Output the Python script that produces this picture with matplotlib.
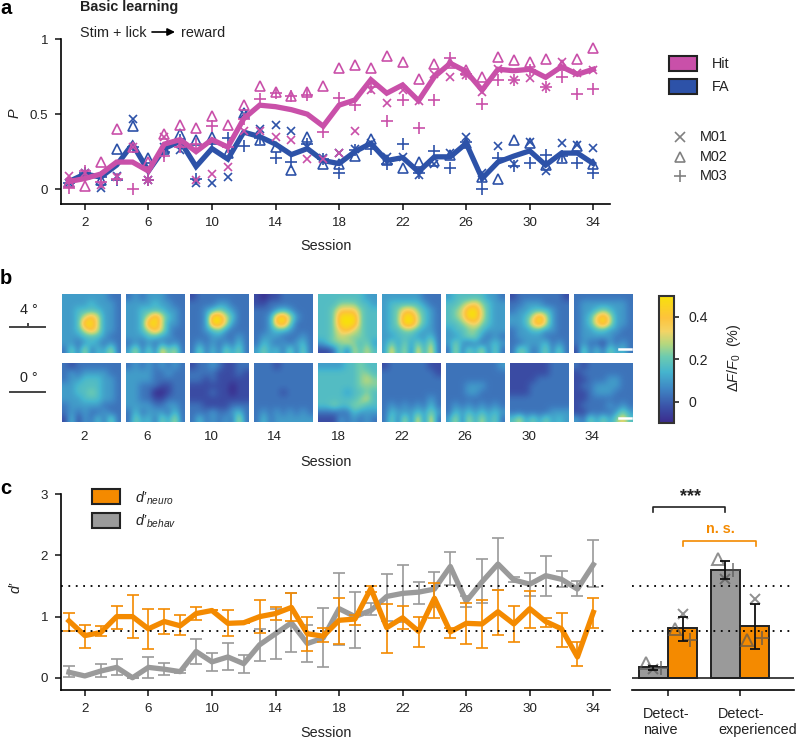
import matplotlib
matplotlib.use("Agg")
import matplotlib.pyplot as plt
import numpy as np
from matplotlib.colors import LinearSegmentedColormap
from matplotlib.patches import Rectangle

plt.rcParams['font.family'] = ['Liberation Sans', 'DejaVu Sans']
plt.rcParams['mathtext.fontset'] = 'custom'
plt.rcParams['mathtext.it'] = 'Liberation Sans:italic'
plt.rcParams['mathtext.rm'] = 'Liberation Sans'
plt.rcParams['text.color'] = '#222222'
plt.rcParams['axes.linewidth'] = 1.2

W, H = 798, 739
PINK = '#C950A9'
BLUE = '#2D52A8'
ORANGE = '#F48A00'
GREY = '#9A9A9A'
DARK = '#222222'

sessions = list(range(1, 35))
session_ticks = [2, 6, 10, 14, 18, 22, 26, 30, 34]

# panel a
hit_mean = [.05, .07, .10, .18, .18, .12, .30, .33, .25, .33, .28, .47, .56, .55, .53, .50, .42,
            .56, .595, .73, .64, .695, .59, .75, .84, .785, .66, .80, .79, .80, .746, .817, .766, .80]
fa_mean = [.05, .10, .08, .16, .30, .12, .27, .32, .15, .27, .20, .38, .35, .30, .23, .27, .19,
           .17, .25, .305, .19, .21, .115, .215, .215, .305, .07, .18, .22, .255, .16, .24, .24, .17]
hit_m01 = [.09, .11, .03, .08, .28, .06, .35, .30, .06, .10, .15, .39, .39, .35, .33, .20, .20,
           .243, .39, .66, .577, .66, .59, .77, .746, .76, .65, .80, .73, .74, .68, .85, .777, .795]
hit_m02 = [.05, .02, .18, .40, .28, .18, .37, .43, .41, .49, .43, .56, .69, .65, .62, .65, .69,
           .806, .83, .806, .89, .85, .735, .835, .84, .795, .75, .88, .86, .85, .87, .83, .87, .945]
hit_m03 = [.01, .12, .05, .07, .00, .06, .22, .28, .30, .42, .28, .47, .60, .64, .62, .63, .38,
           .61, .56, .68, .456, .595, .41, .595, .873, .77, .57, .73, .73, .795, .68, .746, .635, .666]
fa_m01 = [.04, .11, .01, .09, .47, .06, .28, .26, .04, .04, .08, .50, .40, .43, .39, .28, .21,
          .24, .27, .305, .216, .216, .095, .167, .24, .35, .11, .287, .17, .316, .122, .305, .294, .276]
fa_m02 = [.05, .10, .06, .27, .42, .21, .27, .37, .33, .35, .24, .51, .33, .28, .13, .35, .17,
          .17, .22, .334, .194, .138, .18, .19, .227, .305, .08, .065, .327, .305, .16, .21, .29, .17]
fa_m03 = [.04, .11, .08, .06, .28, .06, .25, .33, .07, .30, .34, .29, .34, .21, .18, .30, .20,
          .11, .26, .27, .167, .30, .105, .256, .138, .316, .00, .205, .156, .176, .227, .22, .176, .11]

# panel b, levels 0-9 read per block, 0 = -0.1 and 9 = 0.5
heat_4deg = [
    ["333333322", "333343332", "334444332", "334686332", "334996332", "334686332", "333444322", "332343232", "252624362"],
    ["232333222", "333343322", "334444332", "334696432", "334996332", "334686322", "333443322", "232323232", "362527462"],
    ["122222222", "222233222", "223454322", "223996422", "223996322", "223453222", "222332232", "232323242", "252425352"],
    ["101122222", "112222222", "222343222", "223896322", "223895222", "223443222", "233322232", "243232342", "353425252"],
    ["444444433", "444555443", "445777544", "445999544", "445999544", "445786544", "445655544", "345565453", "112526464"],
    ["333333222", "344444322", "345775432", "345996432", "345996432", "344554332", "334443342", "353535362", "373627372"],
    ["344444332", "445675433", "456996433", "456996433", "445675433", "344554333", "334553232", "353232343", "262536252"],
    ["122222221", "223332222", "233444322", "334696322", "334796322", "233443322", "233332222", "223334232", "254235252"],
    ["222222222", "233333332", "233454332", "234796332", "234796332", "233443322", "233333222", "232213232", "152425342"],
]
heat_0deg = [
    ["212222222", "232333322", "233444332", "334444332", "334454332", "333444332", "233333222", "232322322", "141324252"],
    ["232323232", "333322322", "333322222", "332221122", "332200122", "332211222", "333322332", "242333242", "253425362"],
    ["122321122", "222211121", "221211111", "111111011", "111211011", "111111111", "221111222", "222322342", "242323262"],
    ["222122222", "222222222", "222222222", "222222222", "222212222", "222222222", "222222222", "232323232", "242333333"],
    ["333344544", "444444554", "444444565", "444444555", "444434454", "444444564", "445445544", "222224333", "111323232"],
    ["122222211", "222222221", "222222222", "222222222", "222222222", "222222232", "232323242", "243334353", "252627272"],
    ["222222223", "222222222", "222222222", "222333222", "222332222", "222222222", "232323232", "243434343", "362636352"],
    ["111111222", "111111222", "111122222", "111222222", "111222222", "222222222", "222222222", "222222333", "463535343"],
    ["212222222", "122222222", "112223322", "122333322", "112333222", "112222222", "122223232", "112222353", "325353574"],
]
cbar_ticks = [0, 0.2, 0.4]
cbar_labels = ['0', '0.2', '0.4']

# panel c
neuro = [.93, .69, .74, 1.0, 1.0, .80, .92, .85, 1.05, 1.10, .89, .90, 1.0, 1.05, 1.15, .72, .68,
         .94, .96, 1.46, .82, .98, .76, 1.30, .75, .89, .88, 1.08, .88, 1.13, .92, .80, .34, 1.07]
neuro_hi = [1.06, .87, .85, 1.18, 1.35, 1.12, 1.13, 1.02, 1.15, 1.10, 1.10, .90, 1.27, 1.15, 1.38, 1.0, .81,
            1.31, 1.03, 1.50, 1.20, 1.18, 1.0, 1.55, .82, 1.23, 1.27, 1.43, 1.17, 1.42, .97, 1.06, .59, 1.30]
neuro_lo = [.77, .49, .68, .80, .65, .47, .71, .70, .95, 1.10, .68, .90, .74, .95, .93, .44, .59,
            .55, .86, 1.40, .41, .79, .50, .98, .65, .55, .49, .70, .58, .82, .83, .51, .20, .81]
behav = [.09, .03, .11, .17, .0, .17, .14, .10, .43, .26, .34, .23, .54, .72, .90, .56, .65,
         1.13, 1.0, 1.10, 1.33, 1.38, 1.40, 1.45, 1.82, 1.25, 1.57, 1.86, 1.60, 1.53, 1.67, 1.61, 1.45, 1.85]
behav_hi = [.19, .03, .23, .30, .0, .34, .24, .12, .63, .40, .57, .37, .80, 1.13, 1.39, .87, 1.14,
            1.71, 1.41, 1.22, 1.70, 1.85, 1.57, 1.73, 2.06, 1.33, 1.94, 2.29, 1.64, 1.72, 1.99, 1.75, 1.59, 2.25]
behav_lo = [.02, .03, .01, .05, .0, .0, .04, .08, .22, .11, .12, .08, .28, .31, .42, .26, .17,
            .53, .49, 1.03, .93, .92, 1.20, 1.16, 1.52, 1.16, 1.22, 1.43, 1.56, 1.34, 1.34, 1.48, 1.33, 1.49]
dprime_refs = [0.77, 1.5]

# bars: behav naive, neuro naive, behav experienced, neuro experienced
bar_vals = [.18, .81, 1.77, .85]
bar_hi = [.20, 1.0, 1.91, 1.21]
bar_lo = [.13, .60, 1.61, .47]
bar_m01 = [.14, 1.05, 1.62, 1.28]
bar_m02 = [.24, .79, 1.94, .61]
bar_m03 = [.16, .61, 1.76, .65]
groups = ['Detect-\nnaive', 'Detect-\nexperienced']


def axes_px(left, top, right, bottom, **kw):
    return fig.add_axes([left / W, 1 - bottom / H, (right - left) / W, (bottom - top) / H], **kw)


def session_axis(ax):
    ax.set_xlim(0.5, 35.05)
    ax.set_xticks(session_ticks)
    ax.spines['top'].set_visible(False)
    ax.spines['right'].set_visible(False)
    ax.tick_params(length=4.3, width=1.2, labelsize=9.6, colors=DARK, pad=5)


fig = plt.figure(figsize=(W / 100, H / 100), dpi=100)
ov = fig.add_axes([0, 0, 1, 1], zorder=10)
ov.set_xlim(0, W)
ov.set_ylim(H, 0)
ov.axis('off')

# --- a
ax = axes_px(61, 39.3, 610, 204)
session_axis(ax)
ax.set_ylim(-0.1, 1)
ax.set_yticks([0, 0.5, 1])
ax.set_yticklabels(['0', '0.5', '1'])
mk = dict(ls='none', mfc='none', mew=1.2)
for vals, m, ms in [(fa_m01, 'x', 6.3), (fa_m02, '^', 7.2), (fa_m03, '+', 8)]:
    ax.plot(sessions, vals, marker=m, ms=ms, mec=BLUE, zorder=2, clip_on=False, **mk)
ax.plot(sessions, fa_mean, color=BLUE, lw=3.8, solid_joinstyle='miter', zorder=3)
for vals, m, ms in [(hit_m01, 'x', 6.3), (hit_m02, '^', 7.2), (hit_m03, '+', 8)]:
    ax.plot(sessions, vals, marker=m, ms=ms, mec=PINK, zorder=4, clip_on=False, **mk)
ax.plot(sessions, hit_mean, color=PINK, lw=3.8, solid_joinstyle='miter', zorder=5)

# --- b
cmap = LinearSegmentedColormap.from_list('parula_like', [
    (0.0, '#3B2A8C'), (0.12, '#3A4FA6'), (0.27, '#3F86C4'), (0.40, '#45B4CE'), (0.52, '#6CCBB0'),
    (0.62, '#B5D77E'), (0.72, '#F3D466'), (0.83, '#FDC33C'), (1.0, '#F8E10A')])
im = None
for col in range(9):
    x0 = 62 + 64 * col
    for top, grids in [(294.3, heat_4deg), (363.3, heat_0deg)]:
        hax = axes_px(x0, top, x0 + 58.7, top + 58.4)
        levels = np.array([[int(c) for c in row] for row in grids[col]], dtype=float)
        im = hax.imshow(-0.1 + levels / 9 * 0.6, cmap=cmap, vmin=-0.1, vmax=0.5,
                        interpolation='bicubic', aspect='auto')
        hax.axis('off')
        if col == 8:
            hax.plot([0.76, 0.97], [0.07, 0.07], color='white', lw=1.8, transform=hax.transAxes)

cax = axes_px(659.3, 295.7, 674, 423)
cb = fig.colorbar(im, cax=cax)
cb.set_ticks(cbar_ticks)
cb.set_ticklabels(cbar_labels)
cb.ax.tick_params(length=3.5, width=1.2, labelsize=10.2, colors=DARK, pad=7)
cb.outline.set_edgecolor('#333333')
cb.outline.set_linewidth(1.5)

# --- c
ax = axes_px(61, 494.3, 610, 690)
session_axis(ax)
ax.set_ylim(-0.2, 3)
ax.set_yticks([0, 1, 2, 3])
for ref in dprime_refs:
    ax.plot([0.5, 34.8], [ref, ref], color='black', lw=1.3, ls=(0, (1, 3.1)), zorder=6)
s = np.array(sessions)
ax.errorbar(s, behav, yerr=[np.array(behav) - behav_lo, np.array(behav_hi) - behav], color=GREY,
            lw=3.8, elinewidth=1.2, capsize=4.5, capthick=1.2, zorder=2)
ax.errorbar(s, neuro, yerr=[np.array(neuro) - neuro_lo, np.array(neuro_hi) - neuro], color=ORANGE,
            lw=3.8, elinewidth=1.2, capsize=4.5, capthick=1.2, zorder=3)

# --- bars
bx = axes_px(631.7, 494.3, 794, 690)
bx.set_xlim(-0.25, 5.34)
bx.set_ylim(-0.2, 3)
group_x = [1, 3.48]
bar_x = [group_x[0] - .5, group_x[0] + .5, group_x[1] - .5, group_x[1] + .5]
bar_cols = [GREY, ORANGE, GREY, ORANGE]
bx.bar(bar_x, bar_vals, width=1, color=bar_cols, edgecolor=DARK, lw=1.4, zorder=2)
bx.axhline(0, color=DARK, lw=1.2, zorder=3)
for ref in dprime_refs:
    bx.axhline(ref, color='black', lw=1.3, ls=(0, (1, 3.1)), zorder=4)
for vals, m, ms, off in [(bar_m01, 'x', 7, 0), (bar_m02, '^', 8, -.25), (bar_m03, '+', 9.5, .27)]:
    bx.plot(np.array(bar_x) + off, vals, ls='none', marker=m, ms=ms, mfc='none', mew=1.4,
            mec='#555555', alpha=.65, zorder=5, clip_on=False)
v = np.array(bar_vals)
bx.errorbar(bar_x, v, yerr=[v - bar_lo, np.array(bar_hi) - v], ls='none', color='#111111',
            elinewidth=1.3, capsize=3.5, capthick=1.3, zorder=6)
for name in ['top', 'right', 'left']:
    bx.spines[name].set_visible(False)
bx.patch.set_alpha(0)
bx.set_yticks([])
bx.set_xticks(group_x)
bx.set_xticklabels([])
bx.tick_params(length=4.3, width=1.2, colors=DARK)

# --- overlay text and legends
tx = dict(fontsize=10.4, va='center', color=DARK)
ov.text(0, 8, 'a', fontsize=14.5, fontweight='bold', color='black', va='center')
ov.text(0, 278, 'b', fontsize=14.5, fontweight='bold', color='black', va='center')
ov.text(0, 488, 'c', fontsize=14.5, fontweight='bold', color='black', va='center')
ov.text(80, 7, 'Basic learning', fontweight='bold', **tx)
ov.text(80, 33, 'Stim + lick', **tx)
ov.text(181, 33, 'reward', **tx)
ov.annotate('', xy=(175, 32), xytext=(152, 32),
            arrowprops=dict(arrowstyle='-|>', color='black', lw=1.2, mutation_scale=11, shrinkA=0, shrinkB=0))

for y, lab in [(246, 'Session'), (461.7, 'Session'), (732.7, 'Session')]:
    ov.text(326, y, lab, ha='center', **tx)
for tick in session_ticks:
    ov.text(85 + (tick - 2) * 15.88 - 1, 436.7, str(tick), ha='center', va='center', fontsize=9.6, color=DARK)

ov.text(15, 113, 'P', rotation=90, ha='center', style='italic', **tx)
ov.text(16, 587, 'd’', rotation=90, ha='center', style='italic', **tx)
ov.text(734, 358, r'$\Delta F/F_{0}$  (%)', rotation=90, ha='center', **tx)

for top, col, lab in [(56, PINK, 'Hit'), (79.3, BLUE, 'FA')]:
    ov.add_patch(Rectangle((669, top), 27.7, 14.7, fc=col, ec=DARK, lw=1.5))
    ov.text(711.7, top + 7.5, lab, **tx)
for y, m, ms, lab in [(137, 'x', 6.5, 'M01'), (157, '^', 7.5, 'M02'), (176, '+', 9, 'M03')]:
    ov.plot([680], [y], marker=m, ms=ms, mfc='none', mew=1.2, mec='#808080', ls='none')
    ov.text(700, y, lab, **tx)

for top, col, lab in [(489.3, ORANGE, 'd’$_{neuro}$'), (512.7, GREY, 'd’$_{behav}$')]:
    ov.add_patch(Rectangle((91.7, top), 28, 15, fc=col, ec=DARK, lw=1.5))
    ov.text(135, top + 9, lab, style='italic', **tx)

for y, lab in [(310, '4 °'), (378, '0 °')]:
    ov.text(29, y, lab, ha='center', **tx)
ov.plot([10, 45], [327.3, 327.3], color='#444444', lw=1.4)
ov.plot([28, 28], [324, 327.3], color='#444444', lw=1.4)
ov.plot([10, 45], [392, 392], color='#444444', lw=1.4)

ov.plot([653.3, 653.3, 725, 725], [511.7, 506.7, 506.7, 511.7], color=DARK, lw=1.2)
ov.text(690, 497, '***', ha='center', va='center', fontsize=13, fontweight='bold', color=DARK)
ov.plot([683.3, 683.3, 755.7, 755.7], [545.7, 540.7, 540.7, 545.7], color=ORANGE, lw=1.2)
ov.text(720, 529, 'n. s.', ha='center', va='center', fontsize=10.4, fontweight='bold', color=ORANGE)

ov.text(643, 722, groups[0], linespacing=1.25, **tx)
ov.text(718, 722, groups[1], linespacing=1.25, **tx)

fig.savefig('out.png', dpi=100)
